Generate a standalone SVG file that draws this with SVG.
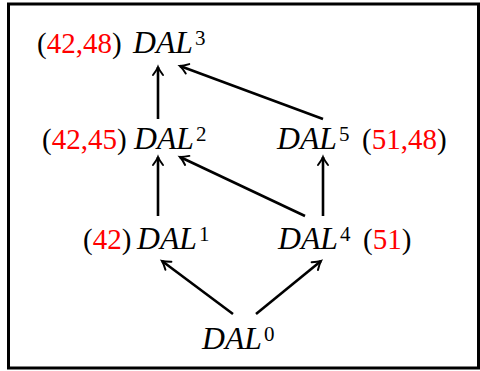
<svg xmlns="http://www.w3.org/2000/svg" width="480" height="371" viewBox="0 0 480 371">
<defs>
<style>
text{font-family:'Liberation Serif',serif}
.t{font-size:29px;fill:#000}
.r{fill:#ff0000}
.m{font-style:italic;font-size:31px}
.s{font-size:21px}
.e{stroke:#000;stroke-width:2.6;fill:none;marker-end:url(#ah)}
</style>
<marker id="ah" markerUnits="userSpaceOnUse" markerWidth="16" markerHeight="16" viewBox="-10 -8 12 16" refX="0" refY="0" orient="auto">
<path d="M -8 -5 Q -3 -1.2 0 0 Q -3 1.2 -8 5" fill="none" stroke="#000" stroke-width="2" stroke-linecap="round"/>
</marker>
</defs>
<rect x="8.5" y="4" width="470" height="364" fill="#fff" stroke="#000" stroke-width="3"/>
<g id="connectors">
<line class="e" x1="158" y1="119" x2="158" y2="67"/>
<line class="e" x1="323" y1="119" x2="180" y2="66"/>
<line class="e" x1="158" y1="216" x2="158" y2="157"/>
<line class="e" x1="305" y1="216" x2="180" y2="157"/>
<line class="e" x1="323" y1="216" x2="323" y2="157"/>
<line class="e" x1="233" y1="314" x2="162" y2="261"/>
<line class="e" x1="256" y1="314" x2="321" y2="261"/>
</g>
<g id="n3"><text class="t" font-family="Liberation Serif" x="37" y="53">(<tspan class="r">42,48</tspan>)<tspan class="m" x="133" textLength="60" lengthAdjust="spacingAndGlyphs">DAL</tspan><tspan class="s" x="195" y="45">3</tspan></text></g>
<g id="n2"><text class="t" font-family="Liberation Serif" x="42" y="149">(<tspan class="r">42,45</tspan>)<tspan class="m" x="134" textLength="60" lengthAdjust="spacingAndGlyphs">DAL</tspan><tspan class="s" x="196" y="141">2</tspan></text></g>
<g id="n5"><text class="t" font-family="Liberation Serif" x="277" y="149"><tspan class="m" textLength="60" lengthAdjust="spacingAndGlyphs">DAL</tspan><tspan class="s" x="339" y="141">5</tspan><tspan x="362" y="149">(</tspan><tspan class="r">51,48</tspan>)</text></g>
<g id="n1"><text class="t" font-family="Liberation Serif" x="83" y="249">(<tspan class="r">42</tspan>)<tspan class="m" x="137" textLength="60" lengthAdjust="spacingAndGlyphs">DAL</tspan><tspan class="s" x="199" y="241">1</tspan></text></g>
<g id="n4"><text class="t" font-family="Liberation Serif" x="278" y="249"><tspan class="m" textLength="60" lengthAdjust="spacingAndGlyphs">DAL</tspan><tspan class="s" x="340" y="241">4</tspan><tspan x="363" y="249">(</tspan><tspan class="r">51</tspan>)</text></g>
<g id="n0"><text class="t" font-family="Liberation Serif" x="202" y="349"><tspan class="m" textLength="60" lengthAdjust="spacingAndGlyphs">DAL</tspan><tspan class="s" x="264" y="341">0</tspan></text></g>
</svg>
